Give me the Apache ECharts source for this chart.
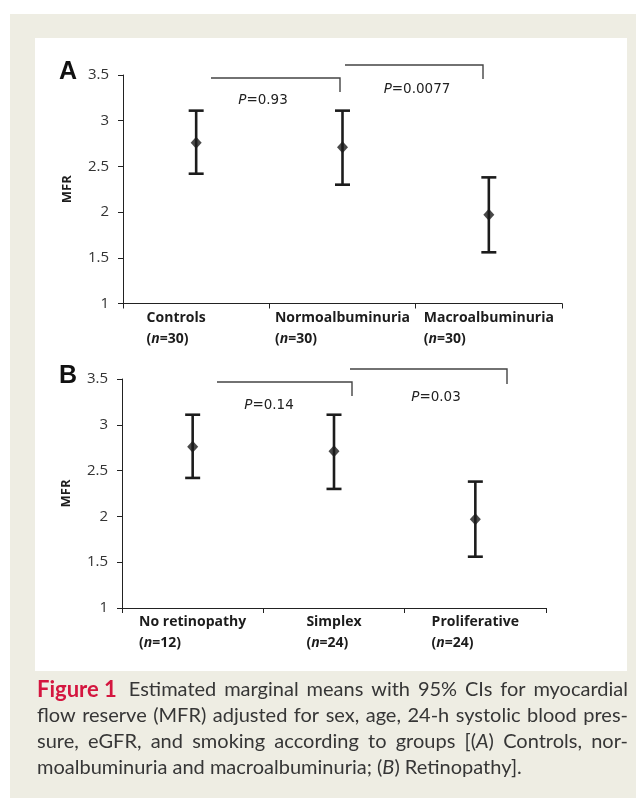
<!DOCTYPE html>
<html>
<head>
<meta charset="utf-8">
<script src="https://cdn.jsdelivr.net/npm/echarts@6/dist/echarts.min.js"></script>
<style>
  html, body { margin: 0; padding: 0; background: #ffffff; }
  #chart { width: 636px; height: 805px; }
</style>
</head>
<body>
<div id="chart"></div>
<script>
// Panel A: albuminuria groups — estimated marginal means of MFR with 95% CI
const groupsA = ['Controls', 'Normoalbuminuria', 'Macroalbuminuria'];
const countsA = [30, 30, 30];
const meanA = [2.76, 2.71, 1.97];
const lowA  = [2.42, 2.30, 1.56];
const highA = [3.11, 3.11, 2.38];
const pValuesA = ['0.93', '0.0077'];

// Panel B: retinopathy groups
const groupsB = ['No retinopathy', 'Simplex', 'Proliferative'];
const countsB = [12, 24, 24];
const meanB = [2.76, 2.71, 1.97];
const lowB  = [2.42, 2.30, 1.56];
const highB = [3.11, 3.11, 2.38];
const pValuesB = ['0.14', '0.03'];

// MFR axis range
const yMin = 1, yMax = 3.5, yStep = 0.5;

// Caption text ({f|..} figure label, {i|..} italic)
const captionLines = [
  '{f|Figure 1} Estimated marginal means with 95% CIs for myocardial',
  'flow reserve (MFR) adjusted for sex, age, 24-h systolic blood pres-',
  'sure, eGFR, and smoking according to groups [({i|A}) Controls, nor-',
  'moalbuminuria and macroalbuminuria; ({i|B}) Retinopathy].'
];

const INK = '#1c1c1c';
const AXIS_FONT = 'Open Sans';

const chart = echarts.init(document.getElementById('chart'), null, { renderer: 'canvas' });

// extra blank width appended to first label line (keeps label block wider)
const labelPadA = [40, 0, 0];
const labelPadB = [0, 0, 0];

function catAxis(gridIndex, groups, counts, pads) {
  const base = { fontFamily: AXIS_FONT, fontWeight: 'bold', fontSize: 14, color: INK, align: 'left', lineHeight: 21 };
  return {
    type: 'category', gridIndex, data: groups, boundaryGap: true,
    axisLine: { lineStyle: { color: '#222', width: 1 } },
    axisTick: { show: true, length: 5, alignWithLabel: false, lineStyle: { color: '#222' } },
    splitLine: { show: false },
    axisLabel: {
      interval: 0, margin: 4, lineHeight: 21,
      formatter: (v, i) => '{b|' + v + '}' + (pads[i] ? '{g' + pads[i] + '| }' : '') +
        '\n{b|(}{i|n}{b|=' + counts[i] + ')}',
      rich: {
        b: base,
        i: Object.assign({}, base, { fontStyle: 'italic' }),
        g40: { width: 40, align: 'left', fontSize: 14, lineHeight: 21 }
      }
    }
  };
}

function valAxis(gridIndex) {
  return {
    type: 'value', gridIndex, min: yMin, max: yMax, interval: yStep,
    name: 'MFR', nameLocation: 'middle', nameGap: 49, nameRotate: 90,
    nameTextStyle: { fontFamily: AXIS_FONT, fontWeight: 'bold', fontSize: 13, color: INK },
    axisLine: { show: true, lineStyle: { color: '#222', width: 1 } },
    axisTick: { show: true, length: 5, lineStyle: { color: '#222' } },
    splitLine: { show: false },
    axisLabel: { fontFamily: AXIS_FONT, fontSize: 15, color: '#333', margin: 14,
      formatter: v => String(v) }
  };
}

function errorBars(idx, low, high) {
  return {
    type: 'custom', xAxisIndex: idx, yAxisIndex: idx, z: 3,
    data: low.map((l, i) => [i, l, high[i]]),
    encode: { x: 0, y: [1, 2] },
    renderItem(params, api) {
      const x = api.value(0);
      const lo = api.coord([x, api.value(1)]);
      const hi = api.coord([x, api.value(2)]);
      const hw = 7.5;
      const st = { stroke: INK, lineWidth: 2.6 };
      return {
        type: 'group',
        children: [
          { type: 'line', shape: { x1: lo[0], y1: lo[1], x2: hi[0], y2: hi[1] }, style: st },
          { type: 'line', shape: { x1: hi[0] - hw, y1: hi[1], x2: hi[0] + hw, y2: hi[1] }, style: st },
          { type: 'line', shape: { x1: lo[0] - hw, y1: lo[1], x2: lo[0] + hw, y2: lo[1] }, style: st }
        ]
      };
    }
  };
}

function means(idx, values) {
  return {
    type: 'scatter', xAxisIndex: idx, yAxisIndex: idx, z: 4,
    symbol: 'diamond', symbolSize: [11, 12],
    itemStyle: { color: INK },
    data: values.map((v, i) => [i, v])
  };
}

// P-value bracket with italic P label
function bracket(points, labelX, labelY, p) {
  return [
    { type: 'polyline', shape: { points }, style: { stroke: '#444', lineWidth: 1.4, fill: null }, z: 5 },
    { type: 'text', x: labelX, y: labelY, z: 5,
      style: {
        text: '{i|P}{r|=' + p + '}', align: 'center', verticalAlign: 'middle',
        rich: {
          i: { fontFamily: 'DejaVu Sans', fontStyle: 'italic', fontSize: 13.5, fill: '#222' },
          r: { fontFamily: 'DejaVu Sans', fontSize: 13.5, fill: '#222' }
        }
      } }
  ];
}

// Justified caption laid out word by word
const captionStyles = {
  t: { font: '20px Lato', fill: '#363636' },
  i: { font: 'italic 20px Lato', fill: '#363636' },
  f: { font: 'bold 22px Lato', fill: '#d4163f' }
};
const measureCtx = document.createElement('canvas').getContext('2d');
function measure(font, text) { measureCtx.font = font; return measureCtx.measureText(text).width; }

function captionElements(left, right, firstY, step) {
  const els = [];
  captionLines.forEach((line, li) => {
    const words = line.match(/(?:\{\w+\|[^}]*\}|[^\s{])+/g);
    const parsed = words.map(w => {
      const segs = [];
      const re = /\{(\w+)\|([^}]*)\}|([^{]+)/g;
      let m;
      while ((m = re.exec(w))) segs.push(m[1] ? [m[1], m[2]] : ['t', m[3]]);
      const width = segs.reduce((s, g) => s + measure(captionStyles[g[0]].font, g[1]), 0);
      return { segs, width };
    });
    const last = li === captionLines.length - 1;
    const leadGap = parsed[0].segs[0][0] === 'f' ? 12 : 0;
    const total = parsed.reduce((s, w) => s + w.width, 0);
    const nGaps = parsed.length - 1 - (leadGap ? 1 : 0);
    const normal = measure(captionStyles.t.font, ' ');
    const gap = last ? normal : (right - left - total - leadGap) / nGaps;
    let x = left;
    const y = firstY + li * step;
    parsed.forEach((w, wi) => {
      w.segs.forEach(g => {
        const st = captionStyles[g[0]];
        els.push({ type: 'text', x, y, z: 5,
          style: { text: g[1], font: st.font, fill: st.fill, align: 'left', verticalAlign: 'middle' } });
        x += measure(st.font, g[1]);
      });
      x += (wi === 0 && leadGap) ? leadGap : gap;
    });
  });
  return els;
}

const graphics = [
  { type: 'rect', z: -100, silent: true, shape: { x: 10, y: 14, width: 626, height: 784 }, style: { fill: '#eeede3' } },
  { type: 'rect', z: -99, silent: true, shape: { x: 35, y: 38, width: 592, height: 633 }, style: { fill: '#ffffff' } },
  { type: 'text', x: 59, y: 72, z: 5, style: { text: 'A', font: 'bold 25px "Liberation Sans"', fill: '#111', verticalAlign: 'middle' } },
  { type: 'text', x: 59, y: 376, z: 5, style: { text: 'B', font: 'bold 25px "Liberation Sans"', fill: '#111', verticalAlign: 'middle' } },
  ...bracket([[211, 78], [340, 78], [340, 92]], 263, 100, pValuesA[0]),
  ...bracket([[345, 65], [483, 65], [483, 79]], 417, 89, pValuesA[1]),
  ...bracket([[217, 382], [352, 382], [352, 396]], 269, 405, pValuesB[0]),
  ...bracket([[350, 369], [507, 369], [507, 384]], 436, 397, pValuesB[1]),
  ...captionElements(37, 628, 690, 26)
];

chart.setOption({
  animation: false,
  grid: [
    { left: 123, top: 75, width: 439, height: 228.5 },
    { left: 122, top: 379, width: 424, height: 229 }
  ],
  xAxis: [catAxis(0, groupsA, countsA, labelPadA), catAxis(1, groupsB, countsB, labelPadB)],
  yAxis: [valAxis(0), valAxis(1)],
  series: [
    errorBars(0, lowA, highA), means(0, meanA),
    errorBars(1, lowB, highB), means(1, meanB)
  ],
  graphic: graphics
});
</script>
</body>
</html>
